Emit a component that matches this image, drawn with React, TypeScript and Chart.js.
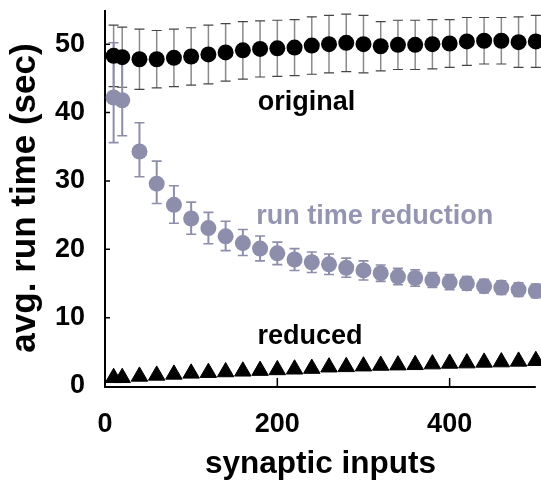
import React, { useEffect, useRef } from "react";
import { Chart, registerables } from "chart.js";

Chart.register(...registerables);

const xInputs = [10, 20, 40, 60, 80, 100, 120, 140, 160, 180, 200, 220, 240, 260, 280, 300, 320, 340, 360, 380, 400, 420, 440, 460, 480, 500];
const originalMean = [48.3, 48.1, 47.8, 47.8, 48.0, 48.2, 48.5, 48.8, 49.1, 49.3, 49.4, 49.5, 49.8, 50.0, 50.2, 50.0, 49.7, 49.9, 49.9, 50.0, 50.1, 50.4, 50.5, 50.5, 50.3, 50.4];
const originalErr = [4.5, 4.4, 4.4, 4.2, 4.2, 4.2, 4.3, 4.2, 4.2, 4.1, 4.1, 4.1, 4.2, 4.2, 4.2, 4.2, 3.6, 3.6, 3.6, 3.6, 3.5, 3.5, 3.4, 3.4, 3.7, 3.8];
const reductionMean = [42.2, 41.8, 34.3, 29.6, 26.5, 24.5, 23.1, 21.9, 20.9, 20.1, 19.4, 18.5, 18.1, 17.8, 17.3, 16.9, 16.5, 16.0, 15.8, 15.5, 15.2, 15.0, 14.6, 14.4, 14.1, 13.9];
const reductionErrUp = [8.0, 6.1, 4.2, 3.3, 2.8, 2.4, 2.3, 2.2, 2.0, 1.85, 1.65, 1.6, 1.5, 1.5, 1.4, 1.4, 1.2, 1.2, 1.2, 1.1, 1.1, 1.0, 1.0, 1.0, 1.0, 1.0];
const reductionErrDown = [6.6, 5.2, 3.7, 2.9, 2.7, 2.3, 2.3, 2.1, 1.8, 1.8, 1.65, 1.6, 1.5, 1.5, 1.4, 1.4, 1.2, 1.2, 1.2, 1.1, 1.1, 1.0, 1.0, 1.0, 1.0, 1.0];
const reducedMean = [1.2, 1.2, 1.4, 1.55, 1.7, 1.85, 1.95, 2.05, 2.15, 2.25, 2.35, 2.45, 2.55, 2.75, 2.8, 2.9, 3.0, 3.05, 3.1, 3.2, 3.3, 3.35, 3.45, 3.5, 3.6, 3.7];

const xTickValues = [0, 200, 400];
const yTickValues = [0, 10, 20, 30, 40, 50];

const labelNotes = [
  { text: "original", x: 234, y: 41.5, color: "#000000" },
  { text: "run time reduction", x: 313, y: 24.8, color: "#9495b1" },
  { text: "reduced", x: 238, y: 7.2, color: "#000000" },
];

const FONT = "'Liberation Sans', Arial, Helvetica, sans-serif";
const GREY = "#8d8eab";

const errorBarPlugin = {
  id: "errorBars",
  beforeDatasetsDraw(chart: any) {
    const ctx = chart.ctx;
    const xs = chart.scales.x;
    const ys = chart.scales.y;
    const cap = 5;
    ctx.save();
    for (let i = 0; i < xInputs.length; i++) {
      const px = xs.getPixelForValue(xInputs[i]);
      const top = ys.getPixelForValue(originalMean[i] + originalErr[i]);
      const bot = ys.getPixelForValue(originalMean[i] - originalErr[i]);
      ctx.strokeStyle = "#8a8a8a";
      ctx.lineWidth = 1.5;
      ctx.beginPath();
      ctx.moveTo(px, top);
      ctx.lineTo(px, bot);
      ctx.stroke();
      ctx.strokeStyle = "#444444";
      ctx.lineWidth = 1.2;
      ctx.beginPath();
      ctx.moveTo(px - cap, top);
      ctx.lineTo(px + cap, top);
      ctx.moveTo(px - cap, bot);
      ctx.lineTo(px + cap, bot);
      ctx.stroke();
    }
    ctx.strokeStyle = GREY;
    for (let i = 0; i < xInputs.length; i++) {
      const px = xs.getPixelForValue(xInputs[i]);
      const top = ys.getPixelForValue(reductionMean[i] + reductionErrUp[i]);
      const bot = ys.getPixelForValue(reductionMean[i] - reductionErrDown[i]);
      ctx.lineWidth = 2;
      ctx.beginPath();
      ctx.moveTo(px, top);
      ctx.lineTo(px, bot);
      ctx.stroke();
      ctx.lineWidth = 1.6;
      ctx.beginPath();
      ctx.moveTo(px - cap, top);
      ctx.lineTo(px + cap, top);
      ctx.moveTo(px - cap, bot);
      ctx.lineTo(px + cap, bot);
      ctx.stroke();
    }
    ctx.restore();
  },
};

const axesPlugin = {
  id: "axesInside",
  beforeDatasetsDraw(chart: any) {
    const ctx = chart.ctx;
    const { left, right, top, bottom } = chart.chartArea;
    const xs = chart.scales.x;
    const ys = chart.scales.y;
    ctx.save();
    ctx.strokeStyle = "#000";
    ctx.lineWidth = 2;
    ctx.beginPath();
    ctx.moveTo(left, top);
    ctx.lineTo(left, bottom + 1);
    ctx.lineTo(right, bottom + 1);
    ctx.stroke();
    ctx.lineWidth = 1.5;
    ctx.beginPath();
    for (const v of yTickValues) {
      if (v === 0) continue;
      const py = ys.getPixelForValue(v);
      ctx.moveTo(left, py);
      ctx.lineTo(left + 5, py);
    }
    for (const v of xTickValues) {
      if (v === 0) continue;
      const px = xs.getPixelForValue(v);
      ctx.moveTo(px, bottom);
      ctx.lineTo(px, bottom - 8);
    }
    ctx.stroke();
    ctx.restore();
  },
};

const notesPlugin = {
  id: "notes",
  afterDatasetsDraw(chart: any) {
    const ctx = chart.ctx;
    const xs = chart.scales.x;
    const ys = chart.scales.y;
    ctx.save();
    ctx.font = `bold 27px ${FONT}`;
    ctx.textAlign = "center";
    ctx.textBaseline = "middle";
    for (const n of labelNotes) {
      ctx.fillStyle = n.color;
      ctx.fillText(n.text, xs.getPixelForValue(n.x), ys.getPixelForValue(n.y));
    }
    ctx.restore();
  },
};

export default function App() {
  const ref = useRef<HTMLCanvasElement | null>(null);
  useEffect(() => {
    if (!ref.current) return;
    const chart = new Chart(ref.current, {
      type: "scatter",
      data: {
        datasets: [
          {
            label: "original",
            data: xInputs.map((x, i) => ({ x, y: originalMean[i] })),
            backgroundColor: "#000000",
            borderColor: "#000000",
            pointRadius: 8,
            borderWidth: 0,
            pointStyle: "circle",
            clip: false,
          } as any,
          {
            label: "run time reduction",
            data: xInputs.map((x, i) => ({ x, y: reductionMean[i] })),
            backgroundColor: GREY,
            borderColor: GREY,
            pointRadius: 8,
            borderWidth: 0,
            pointStyle: "circle",
            clip: false,
          } as any,
          {
            label: "reduced",
            data: xInputs.map((x, i) => ({ x, y: reducedMean[i] })),
            backgroundColor: "#000000",
            borderColor: "#000000",
            pointRadius: 9.5,
            borderWidth: 1,
            pointStyle: "triangle",
            clip: false,
          } as any,
        ],
      },
      options: {
        animation: false,
        responsive: false,
        devicePixelRatio: 1,
        events: [],
        layout: { autoPadding: false, padding: { top: 10, right: 5.2, left: 0, bottom: 0 } },
        plugins: { legend: { display: false }, tooltip: { enabled: false } },
        scales: {
          x: {
            type: "linear",
            min: 0,
            max: 500,
            grid: { display: false, drawTicks: false },
            border: { display: false },
            afterBuildTicks: (s: any) => {
              s.ticks = xTickValues.map((v) => ({ value: v }));
            },
            afterFit: (s: any) => {
              s.height = 97;
              s.paddingLeft = 0;
              s.paddingRight = 0;
            },
            ticks: {
              padding: 22,
              color: "#000",
              font: { family: FONT, size: 27, weight: "bold" },
              maxRotation: 0,
              autoSkip: false,
            },
            title: {
              display: true,
              text: "synaptic inputs",
              color: "#000",
              font: { family: FONT, size: 31.5, weight: "bold" },
              padding: { top: 0, bottom: 0 },
            },
          },
          y: {
            type: "linear",
            min: 0,
            max: 55,
            grid: { display: false, drawTicks: false },
            border: { display: false },
            afterBuildTicks: (s: any) => {
              s.ticks = yTickValues.map((v) => ({ value: v }));
            },
            afterFit: (s: any) => {
              s.width = 105;
              s.paddingTop = 0;
              s.paddingBottom = 0;
            },
            ticks: {
              padding: 20,
              color: "#000",
              font: { family: FONT, size: 27, weight: "bold" },
              autoSkip: false,
            },
            title: {
              display: true,
              text: "avg. run time (sec)",
              color: "#000",
              font: { family: FONT, size: 35, weight: "bold" },
              padding: { top: 4, bottom: 0 },
            },
          },
        },
      } as any,
      plugins: [axesPlugin, errorBarPlugin, notesPlugin],
    });
    return () => chart.destroy();
  }, []);
  return (
    <div style={{ position: "absolute", left: 0, top: 0, width: 541, height: 483, background: "#fff" }}>
      <canvas ref={ref} width={541} height={483} style={{ display: "block" }} />
    </div>
  );
}
